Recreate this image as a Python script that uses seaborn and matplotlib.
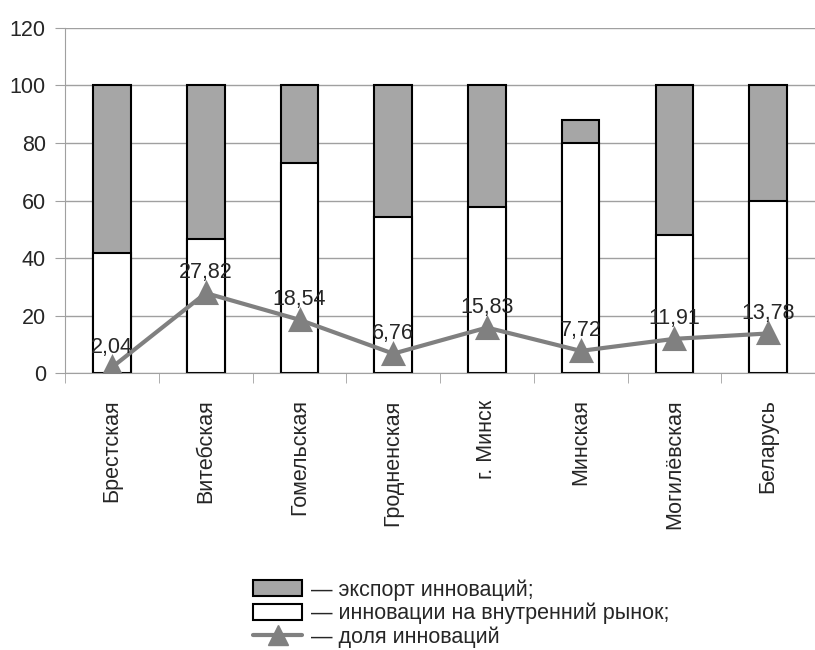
import numpy as np
import pandas as pd
import matplotlib
matplotlib.use("Agg")
import matplotlib.pyplot as plt
import seaborn as sns
from matplotlib.patches import Patch
from matplotlib.lines import Line2D

regions = ['Брестская', 'Витебская', 'Гомельская', 'Гродненская',
           'г. Минск', 'Минская', 'Могилёвская', 'Беларусь']
domestic = [41.6, 46.5, 72.9, 54.3, 57.8, 79.9, 48.1, 59.7]
export = [58.4, 53.5, 27.1, 45.7, 42.2, 8.1, 51.9, 40.3]
share = [2.04, 27.82, 18.54, 6.76, 15.83, 7.72, 11.91, 13.78]

df = pd.DataFrame({'region': regions, 'domestic': domestic,
                   'export': export, 'share': share})
df['total'] = df['domestic'] + df['export']

sns.set_style('white')
plt.rcParams['font.family'] = ['Liberation Sans', 'DejaVu Sans']
fs = 15.5

fig = plt.figure(figsize=(8.15, 6.5), dpi=100)
ax = fig.add_axes([0.08, 0.426, 0.92, 0.531])

grey_bar = '#a6a6a6'
line_col = '#808080'

sns.barplot(data=df, x='region', y='total', color=grey_bar, edgecolor='black',
            linewidth=1.5, width=0.4, saturation=1, ax=ax, zorder=2)
sns.barplot(data=df, x='region', y='domestic', color='white', edgecolor='black',
            linewidth=1.5, width=0.4, saturation=1, ax=ax, zorder=2)
sns.pointplot(data=df, x='region', y='share', color=line_col, markers='^',
              markersize=14, linewidth=3, ax=ax, zorder=4)

for i, v in enumerate(share):
    ax.annotate(f'{v:.2f}'.replace('.', ','), (i, v), xytext=(0, 7),
                textcoords='offset points', ha='center', va='bottom',
                fontsize=fs, zorder=5)

ax.set_xlim(-0.5, 7.5)
ax.set_ylim(0, 120)
ax.set_yticks(np.arange(0, 121, 20))
ax.yaxis.grid(True, color='#a0a0a0', linewidth=1)
ax.set_axisbelow(True)
ax.set_xlabel('')
ax.set_ylabel('')

ax.set_xticks(range(len(regions)))
ax.set_xticklabels(regions, rotation=90, fontsize=fs)
ax.set_xticks(np.arange(-0.5, 8, 1), minor=True)
ax.tick_params(axis='x', which='major', length=0, pad=19)
ax.tick_params(axis='x', which='minor', length=7, color='#a0a0a0', direction='out', bottom=True)
ax.tick_params(axis='y', length=7, color='#a0a0a0', direction='out', left=True, labelsize=fs, pad=7)

for s in ['top', 'right']:
    ax.spines[s].set_visible(False)
ax.spines['left'].set_color('#a0a0a0')
ax.spines['bottom'].set_color('#a0a0a0')

handles = [Patch(facecolor=grey_bar, edgecolor='black', linewidth=1.5),
           Patch(facecolor='white', edgecolor='black', linewidth=1.5),
           Line2D([0], [0], color=line_col, linewidth=3, marker='^', markersize=14)]
labels = ['— экспорт инноваций;', '— инновации на внутренний рынок;', '— доля инноваций']
fig.legend(handles, labels, loc='center left', bbox_to_anchor=(0.297, 0.056),
           frameon=False, fontsize=fs, handlelength=2.3, handleheight=0.8,
           handletextpad=0.4, labelspacing=0.1, borderpad=0)

fig.savefig('out.png', dpi=100)
